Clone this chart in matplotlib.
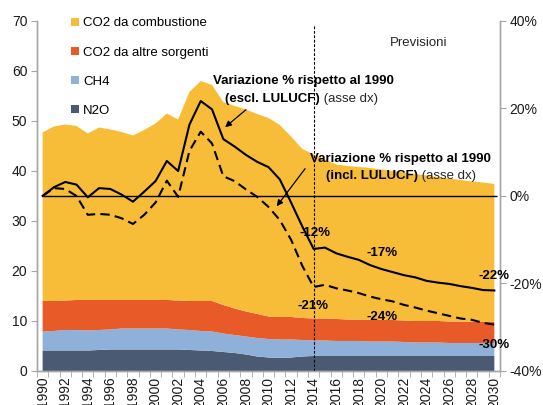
import matplotlib
matplotlib.use("Agg")
from matplotlib import pyplot as plt
import numpy as np

plt.rcParams['font.family'] = ['Liberation Sans', 'DejaVu Sans']

# Dati (Mt CO2eq, asse sx) e variazioni % (asse dx)
years = list(range(1990, 2031))

n2o = [4.1, 4.1, 4.1, 4.1, 4.1, 4.2, 4.3, 4.3, 4.3, 4.3, 4.3, 4.3, 4.3, 4.2, 4.1, 4.0,
       3.8, 3.6, 3.3, 2.9, 2.7, 2.6, 2.7, 2.9, 3.0, 3.0, 3.0, 3.0, 3.0, 3.0, 3.0,
       3.0, 3.0, 3.0, 3.0, 3.0, 3.0, 3.0, 3.0, 3.0, 3.0]
ch4 = [3.8, 3.9, 4.1, 4.1, 4.0, 4.0, 4.0, 4.2, 4.2, 4.2, 4.2, 4.2, 4.0, 4.0, 3.9, 3.9,
       3.7, 3.6, 3.6, 3.7, 3.7, 3.7, 3.6, 3.3, 3.1, 3.1, 3.0, 3.0, 3.0, 2.9, 2.9,
       2.9, 2.8, 2.7, 2.7, 2.7, 2.6, 2.6, 2.6, 2.6, 2.6]
co2_altre = [6.1, 6.0, 5.9, 6.0, 6.1, 6.0, 5.9, 5.7, 5.7, 5.7, 5.7, 5.7, 5.8, 5.8, 6.0, 6.1,
             5.7, 5.3, 5.0, 4.8, 4.5, 4.5, 4.5, 4.4, 4.4, 4.4, 4.4, 4.3, 4.3, 4.3, 4.3,
             4.3, 4.3, 4.3, 4.3, 4.3, 4.3, 4.3, 4.2, 4.2, 4.2]
co2_comb = [33.7, 34.9, 35.2, 34.8, 33.3, 34.5, 34.1, 33.6, 32.9, 34.0, 35.3, 37.3, 36.2, 41.8, 44.0, 43.2,
            40.6, 40.5, 40.4, 40.0, 39.7, 38.4, 36.1, 33.8, 32.8, 31.8, 30.9, 30.7, 30.5, 30.4, 30.1,
            29.8, 29.6, 29.4, 29.1, 28.8, 28.6, 28.3, 28.1, 27.9, 27.6]

var_escl = [0, 2.0, 3.2, 2.6, -0.3, 1.8, 1.6, 0.3, -1.3, 1.0, 3.4, 8.0, 5.7, 16.3, 21.7, 19.8,
            13.0, 11.3, 9.4, 7.8, 6.6, 3.8, -1.5, -7.0, -12.1, -11.8, -13.1, -13.9, -14.6, -15.8, -16.7,
            -17.4, -18.1, -18.6, -19.4, -19.8, -20.1, -20.6, -21.0, -21.5, -21.6]
var_incl = [0, 1.8, 1.6, 0.0, -4.3, -4.1, -4.3, -5.1, -6.4, -4.3, -1.5, 3.5, -0.2, 10.3, 14.7, 12.0,
            4.5, 3.4, 1.5, -0.2, -2.5, -5.5, -10.0, -16.0, -20.8, -20.3, -21.1, -21.6, -22.2, -23.0, -23.6,
            -24.1, -24.9, -25.5, -26.2, -26.8, -27.4, -28.0, -28.3, -29.0, -29.4]

labels = ['N2O', 'CH4', 'CO2 da altre sorgenti', 'CO2 da combustione']
colors = ['#4A5A72', '#8FB1D9', '#E85A27', '#F8BD38']

# etichette % (anno, valore asse sx)
pct_labels = [('-12%', 2014.1, 27.6), ('-21%', 2013.95, 13.0), ('-17%', 2020.06, 23.6),
              ('-24%', 2020.06, 10.8), ('-22%', 2030.0, 19.0), ('-30%', 2030.0, 5.2)]

spine_col = '#A6A6A6'
txt_col = '#1A1A1A'

fig = plt.figure(figsize=(5.43, 4.05), dpi=100)
ax = fig.add_axes([0.0681, 0.0840, 0.8527, 0.8642])
ax2 = ax.twinx()

ax.stackplot(years, n2o, ch4, co2_altre, co2_comb, colors=colors, labels=labels, lw=0)

ax.set_xlim(1989.5, 2030.5)
ax.set_ylim(0, 70)
ax2.set_ylim(-40, 40)

# linee variazione %
ax2.plot(years, var_escl, color='black', lw=1.5)
ax2.plot(years, var_incl, color='black', lw=1.5, linestyle=(0, (4.5, 2.5)))
ax2.hlines(0, 1990, 2030.2, color='black', lw=1)

# linea verticale previsioni
ax2.vlines(2014, -40, 39.1, color='black', lw=0.8, linestyle=(0, (2.5, 1.5)))

# assi
for a in (ax, ax2):
    a.spines['top'].set_visible(False)
    for s in ('left', 'right', 'bottom'):
        a.spines[s].set_color(spine_col)
        a.spines[s].set_linewidth(1)

ax.set_yticks(range(0, 71, 10))
ax.tick_params(axis='y', length=4, color=spine_col, labelsize=10, labelcolor=txt_col, pad=3)
ax2.set_yticks([-40, -20, 0, 20, 40])
ax2.set_yticklabels([f'{v}%' for v in [-40, -20, 0, 20, 40]])
ax2.tick_params(axis='y', length=4, color=spine_col, labelsize=10, labelcolor=txt_col, pad=3)

ax.set_xticks(range(1990, 2031, 2))
ax.set_xticklabels([str(y) for y in range(1990, 2031, 2)], rotation=90)
ax.set_xticks(np.arange(1989.5, 2031, 1), minor=True)
ax.tick_params(axis='x', which='major', length=0, labelsize=10, labelcolor=txt_col, pad=4)
ax.tick_params(axis='x', which='minor', length=4, color=spine_col)

# legenda
handles, labs = ax.get_legend_handles_labels()
ax.legend(handles[::-1], labs[::-1], loc='upper left', bbox_to_anchor=(0.074, 1.01),
          frameon=False, fontsize=9.5, handlelength=0.6, handleheight=0.6,
          handletextpad=0.3, labelspacing=1.3, borderpad=0, borderaxespad=0)

# annotazioni (coordinate dell'asse sx, disegnate sopra le linee)
tr = ax.transData
bold = dict(fontsize=9.5, fontweight='bold', color='black', transform=tr)
norm = dict(fontsize=9.5, color='#262626', transform=tr)
ax2.text(2023.3, 65.6, 'Previsioni', ha='center', va='center', **norm)

ax2.text(2013.06, 58.0, 'Variazione % rispetto al 1990', ha='center', va='center', **bold)
ax2.text(2014.55, 54.4, '(escl. LULUCF)', ha='right', va='center', **bold)
ax2.text(2014.55, 54.4, ' (asse dx)', ha='left', va='center', **norm)
ax2.annotate('', xy=(2005.97, 48.4), xytext=(2008.19, 52.6), xycoords=tr, textcoords=tr,
             arrowprops=dict(arrowstyle='-|>', color='black', lw=0.9, mutation_scale=9))

ax2.text(2021.65, 42.4, 'Variazione % rispetto al 1990', ha='center', va='center', **bold)
ax2.text(2023.25, 39.0, '(incl. LULUCF)', ha='right', va='center', **bold)
ax2.text(2023.25, 39.0, ' (asse dx)', ha='left', va='center', **norm)
ax2.annotate('', xy=(2010.58, 32.5), xytext=(2013.39, 40.9), xycoords=tr, textcoords=tr,
             arrowprops=dict(arrowstyle='-|>', color='black', lw=0.9, mutation_scale=9))

for t, x, y in pct_labels:
    ax2.text(x, y, t, ha='center', va='center', **bold)

fig.savefig('out.png', dpi=100)
